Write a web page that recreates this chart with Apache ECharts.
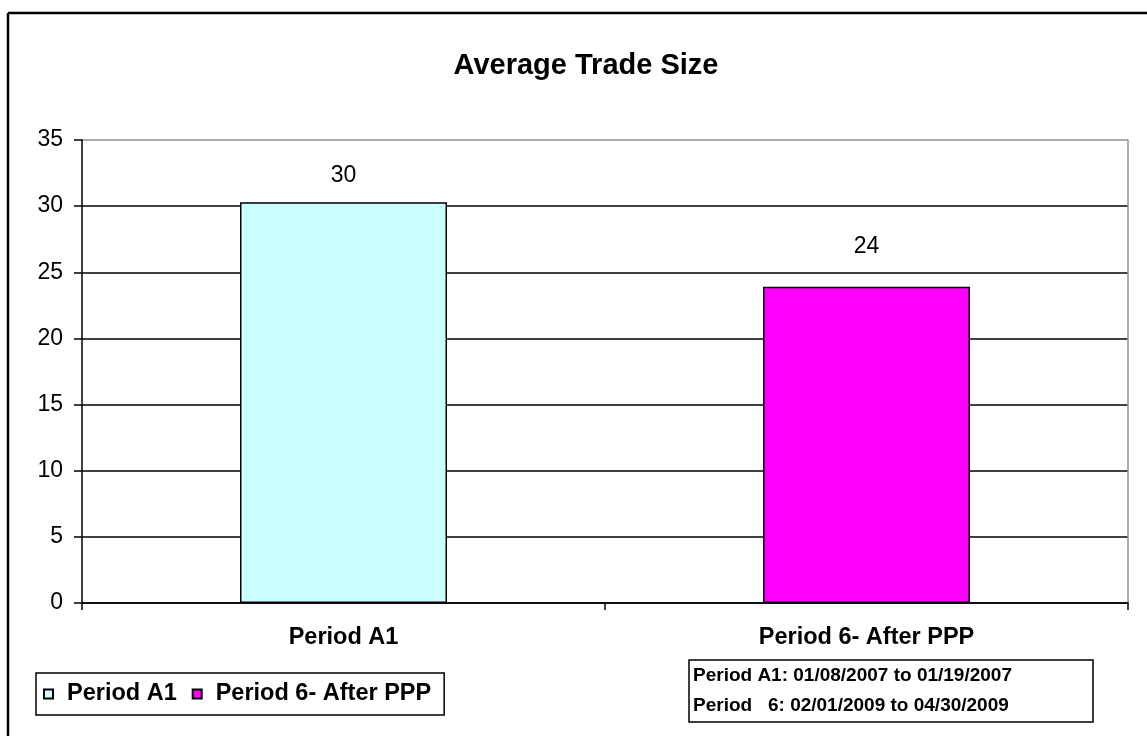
<!DOCTYPE html>
<html>
<head>
<meta charset="utf-8">
<style>
html,body{margin:0;padding:0;background:#fff;}
#chart{width:1147px;height:736px;}
</style>
<script src="https://cdn.jsdelivr.net/npm/echarts@6/dist/echarts.min.js"></script>
</head>
<body>
<div id="chart"></div>
<script>
var categories = ['Period A1', 'Period 6- After PPP'];
var seriesNames = ['Period A1', 'Period 6- After PPP'];
var periodA1Values = [30.3, null];
var period6Values = [null, 23.9];
var noteLines = ['Period A1: 01/08/2007 to 01/19/2007', 'Period   6: 02/01/2009 to 04/30/2009'];

var FONT = '"Liberation Sans", Arial, sans-serif';
var chart = echarts.init(document.getElementById('chart'), null, {renderer: 'canvas'});

var option = {
  backgroundColor: '#fff',
  animation: false,
  title: {
    text: 'Average Trade Size',
    left: 581,
    textAlign: 'center',
    top: 46,
    textStyle: {fontFamily: FONT, fontSize: 29, fontWeight: 'bold', color: '#000'}
  },
  legend: {
    left: 36,
    top: 673,
    padding: [9, 13, 9, 7],
    borderColor: '#000',
    borderWidth: 1.5,
    itemWidth: 9,
    itemHeight: 9,
    itemGap: 15,
    icon: 'rect',
    data: seriesNames,
    textStyle: {fontFamily: FONT, fontSize: 23.5, fontWeight: 'bold', color: '#000', padding: [0, 0, 0, 9]}
  },
  grid: {left: 82, top: 140, width: 1046, height: 463, containLabel: false},
  xAxis: {
    type: 'category',
    data: categories,
    axisLine: {lineStyle: {color: '#000', width: 1.5}},
    axisTick: {show: true, length: 7, lineStyle: {color: '#000', width: 1.5}},
    axisLabel: {fontFamily: FONT, fontSize: 23.5, fontWeight: 'bold', color: '#000', margin: 23}
  },
  yAxis: [{
    type: 'value',
    min: 0,
    max: 35,
    interval: 5,
    axisLine: {show: true, lineStyle: {color: '#000', width: 1.5}},
    axisTick: {show: true, length: 8, lineStyle: {color: '#000', width: 1.5}},
    axisLabel: {fontFamily: FONT, fontSize: 23, color: '#000', margin: 19},
    splitLine: {show: true, lineStyle: {color: ['#000', '#000', '#000', '#000', '#000', '#000', '#000', '#909090'], width: 1.5}}
  }, {
    type: 'value',
    position: 'right',
    min: 0,
    max: 35,
    interval: 5,
    axisLine: {show: true, lineStyle: {color: '#909090', width: 1.5}},
    axisTick: {show: false},
    axisLabel: {show: false},
    splitLine: {show: false}
  }],
  series: [{
    name: seriesNames[0],
    type: 'bar',
    data: periodA1Values,
    barWidth: 207,
    barGap: '-100%',
    itemStyle: {color: '#CCFFFF', borderColor: '#000', borderWidth: 1.5},
    label: {show: true, position: 'top', distance: 15, fontFamily: FONT, fontSize: 23, color: '#000',
      formatter: function (p) { return Math.round(p.value); }}
  }, {
    name: seriesNames[1],
    type: 'bar',
    data: period6Values,
    barWidth: 207,
    barGap: '-100%',
    itemStyle: {color: '#FF00FF', borderColor: '#000', borderWidth: 1.5},
    label: {show: true, position: 'top', distance: 29, fontFamily: FONT, fontSize: 23, color: '#000',
      formatter: function (p) { return Math.round(p.value); }}
  }],
  graphic: [
    {type: 'line', shape: {x1: 8, y1: 13, x2: 1147, y2: 13}, style: {stroke: '#000', lineWidth: 2.5}},
    {type: 'line', shape: {x1: 8, y1: 13, x2: 8, y2: 736}, style: {stroke: '#000', lineWidth: 2.5}},
    {type: 'rect', shape: {x: 689, y: 660, width: 404, height: 62}, style: {fill: '#fff', stroke: '#000', lineWidth: 1.5}},
    {type: 'text', left: 693, top: 666, style: {text: noteLines[0], font: 'bold 19px ' + FONT, fill: '#000'}},
    {type: 'text', left: 693, top: 696, style: {text: noteLines[1], font: 'bold 19px ' + FONT, fill: '#000'}}
  ]
};
chart.setOption(option);
</script>
</body>
</html>
